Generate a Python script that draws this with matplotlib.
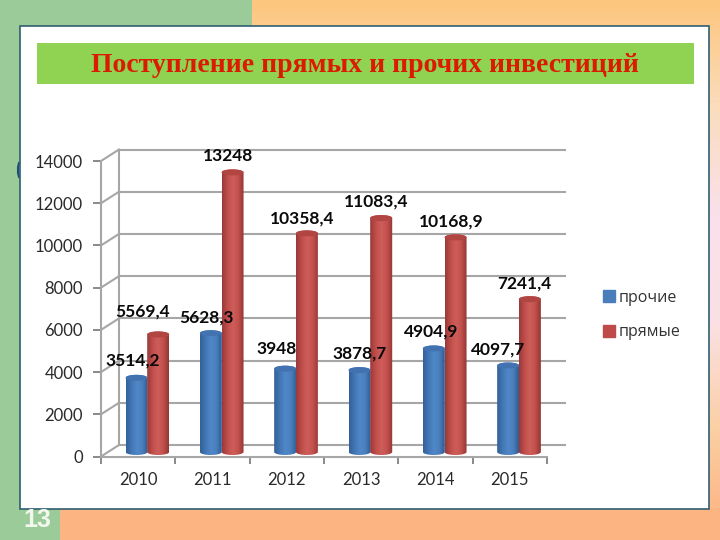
import matplotlib
import matplotlib.pyplot as plt
import numpy as np
from matplotlib.colors import LinearSegmentedColormap
from matplotlib.lines import Line2D
from matplotlib.patches import PathPatch, Rectangle
from matplotlib.path import Path

matplotlib.use('Agg')

years = ['2010', '2011', '2012', '2013', '2014', '2015']
other = [3514.2, 5628.3, 3948, 3878.7, 4904.9, 4097.7]
direct = [5569.4, 13248, 10358.4, 11083.4, 10168.9, 7241.4]
other_labels = ['3514,2', '5628,3', '3948', '3878,7', '4904,9', '4097,7']
direct_labels = ['5569,4', '13248', '10358,4', '11083,4', '10168,9', '7241,4']
y_ticks = [0, 2000, 4000, 6000, 8000, 10000, 12000, 14000]
title = 'Поступление прямых и прочих инвестиций'
slide_number = '13'

W, H = 720, 540
fig = plt.figure(figsize=(7.2, 5.4), dpi=100)

# slide background in pixel coords
bg = fig.add_axes([0, 0, 1, 1])
strip = LinearSegmentedColormap.from_list('strip', ['#FDC67F', '#FBDDBE', '#FAE0EC', '#FBE0E4', '#FBCFA4', '#FDB080'])
bg.imshow(np.linspace(0, 1, 100).reshape(-1, 1), cmap=strip, extent=[252, W, H, 0], aspect='auto')
bg.set_xlim(0, W)
bg.set_ylim(H, 0)
bg.axis('off')
bg.add_patch(Rectangle((0, 0), 252, H, color='#9CCB9A', lw=0))
bg.add_patch(Rectangle((60, 509), 660, 31, color='#FDB483', lw=0))
bg.plot([19, 18, 18, 19], [163, 167, 173, 177], color='#1F4E79', lw=1.5, zorder=1)
bg.add_patch(Rectangle((20, 26), 689, 483, fc='white', ec='#2F5F70', lw=1.2, zorder=2))
bg.add_patch(Rectangle((37, 43), 657, 41, color='#90D353', lw=0, zorder=3))
bg.text(365, 65, title, color='#DC1A00', fontsize=20, fontweight='bold',
        family='Liberation Serif', ha='center', va='center', zorder=4)
bg.text(37, 520, slide_number, color='#F2F8EE', fontsize=18, fontweight='bold',
        family='Liberation Sans', ha='center', va='center', zorder=4)

# chart axes: front edge of the 3D box
ax = fig.add_axes([101 / W, 1 - 456.5 / H, 446 / W, 295.5 / H])
ax.patch.set_alpha(0)
ax.set_xlim(0, 6)
ax.set_ylim(0, 14000)

px_x = 6 / 446
px_y = 14000 / 295.5
dx, dy = 18 * px_x, 11.5 * px_y

grid = '#A6A6A6'
for v in y_ticks:
    ax.plot([dx, 6 + dx], [v + dy, v + dy], color=grid, lw=1.5, clip_on=False, zorder=1)
    ax.plot([0, dx], [v, v + dy], color=grid, lw=1.5, clip_on=False, zorder=1)
ax.plot([dx, dx], [dy, 14000 + dy], color=grid, lw=1.5, clip_on=False, zorder=1)

for s in ['top', 'right']:
    ax.spines[s].set_visible(False)
for s in ['left', 'bottom']:
    ax.spines[s].set_color(grid)
    ax.spines[s].set_linewidth(1.5)
ax.set_yticks(y_ticks)
ax.set_xticks(range(7))
ax.set_xticks(np.arange(6) + 0.5, years, minor=True)
ax.set_xticklabels([])
ax.tick_params(axis='y', length=6, width=1.3, color='#808080', labelsize=12, labelcolor='#2A2A2A', pad=7)
ax.tick_params(axis='x', which='major', length=5, width=1.3, color='#808080', direction='out')
ax.tick_params(axis='x', which='minor', length=0, labelsize=12, labelcolor='#2A2A2A', pad=11)
for t in ax.get_yticklabels() + ax.get_xticklabels(minor=True):
    t.set_family('Lato')

blue_cm = LinearSegmentedColormap.from_list('b', ['#33609A', '#4276B4', '#5088C8', '#4A7FBC', '#2F5C94'])
red_cm = LinearSegmentedColormap.from_list('r', ['#98393A', '#C04E4B', '#CF5D59', '#C2504D', '#923634'])
base = 4.5 * px_y
half_w = 11 * px_x
rise = 3 * px_y
k = 0.5523


def cylinder(xc, value, cmap, top_color):
    top = base + value
    verts = [(xc - half_w, top), (xc - half_w, base),
             (xc - half_w, base - k * rise), (xc - k * half_w, base - rise), (xc, base - rise),
             (xc + k * half_w, base - rise), (xc + half_w, base - k * rise), (xc + half_w, base),
             (xc + half_w, top),
             (xc + half_w, top + k * rise), (xc + k * half_w, top + rise), (xc, top + rise),
             (xc - k * half_w, top + rise), (xc - half_w, top + k * rise), (xc - half_w, top),
             (xc - half_w, top)]
    codes = [Path.MOVETO, Path.LINETO,
             Path.CURVE4, Path.CURVE4, Path.CURVE4,
             Path.CURVE4, Path.CURVE4, Path.CURVE4,
             Path.LINETO,
             Path.CURVE4, Path.CURVE4, Path.CURVE4,
             Path.CURVE4, Path.CURVE4, Path.CURVE4,
             Path.CLOSEPOLY]
    body = PathPatch(Path(verts, codes), fc='none', ec='none', transform=ax.transData)
    ax.add_patch(body)
    img = ax.imshow(np.linspace(0, 1, 64).reshape(1, -1), cmap=cmap, aspect='auto', zorder=3,
                    extent=[xc - half_w, xc + half_w, base - rise, top + rise])
    img.set_clip_path(body)
    cap = np.linspace(0, 2 * np.pi, 60)
    ax.fill(xc + half_w * np.cos(cap), top + rise * np.sin(cap), color=top_color, lw=0, zorder=4, clip_on=False)


label_font = dict(family='Lato', fontweight='bold', fontsize=12.5, color='#0A0A0A',
                  ha='center', va='center', zorder=6, annotation_clip=False)
other_off = [(-2.8, 12.2), (-3, 11.2), (-6.4, 14.1), (0.2, 12.1), (-1.7, 12.1), (-7.6, 11.2)]
direct_off = [(-11.4, 16.6), (-2.9, 11.7), (-3.2, 10.6), (-3.7, 12), (-3.1, 11.3), (-4, 11.6)]

for i in range(6):
    xb = i + 35.5 * px_x
    xr = i + 57.2 * px_x
    cylinder(xb, other[i], blue_cm, '#4273B0')
    cylinder(xr, direct[i], red_cm, '#B04542')
    ax.annotate(other_labels[i], (xb, other[i] + base), xytext=other_off[i],
                textcoords='offset points', **label_font)
    ax.annotate(direct_labels[i], (xr, direct[i] + base), xytext=direct_off[i],
                textcoords='offset points', **label_font)

ax.set_xlim(0, 6)
ax.set_ylim(0, 14000)

handles = [Line2D([], [], marker='s', ls='', ms=8, color='#4A7EBB', label='прочие'),
           Line2D([], [], marker='s', ls='', ms=8, color='#BE4B48', label='прямые')]
leg = fig.legend(handles=handles, loc='center left', bbox_to_anchor=(579 / W, 1 - 315 / H), frameon=False,
                 prop={'family': 'Open Sans', 'size': 11.5}, labelspacing=1.15, handletextpad=-0.4)
for t in leg.get_texts():
    t.set_color('#333333')

fig.savefig('out.png', dpi=100)
